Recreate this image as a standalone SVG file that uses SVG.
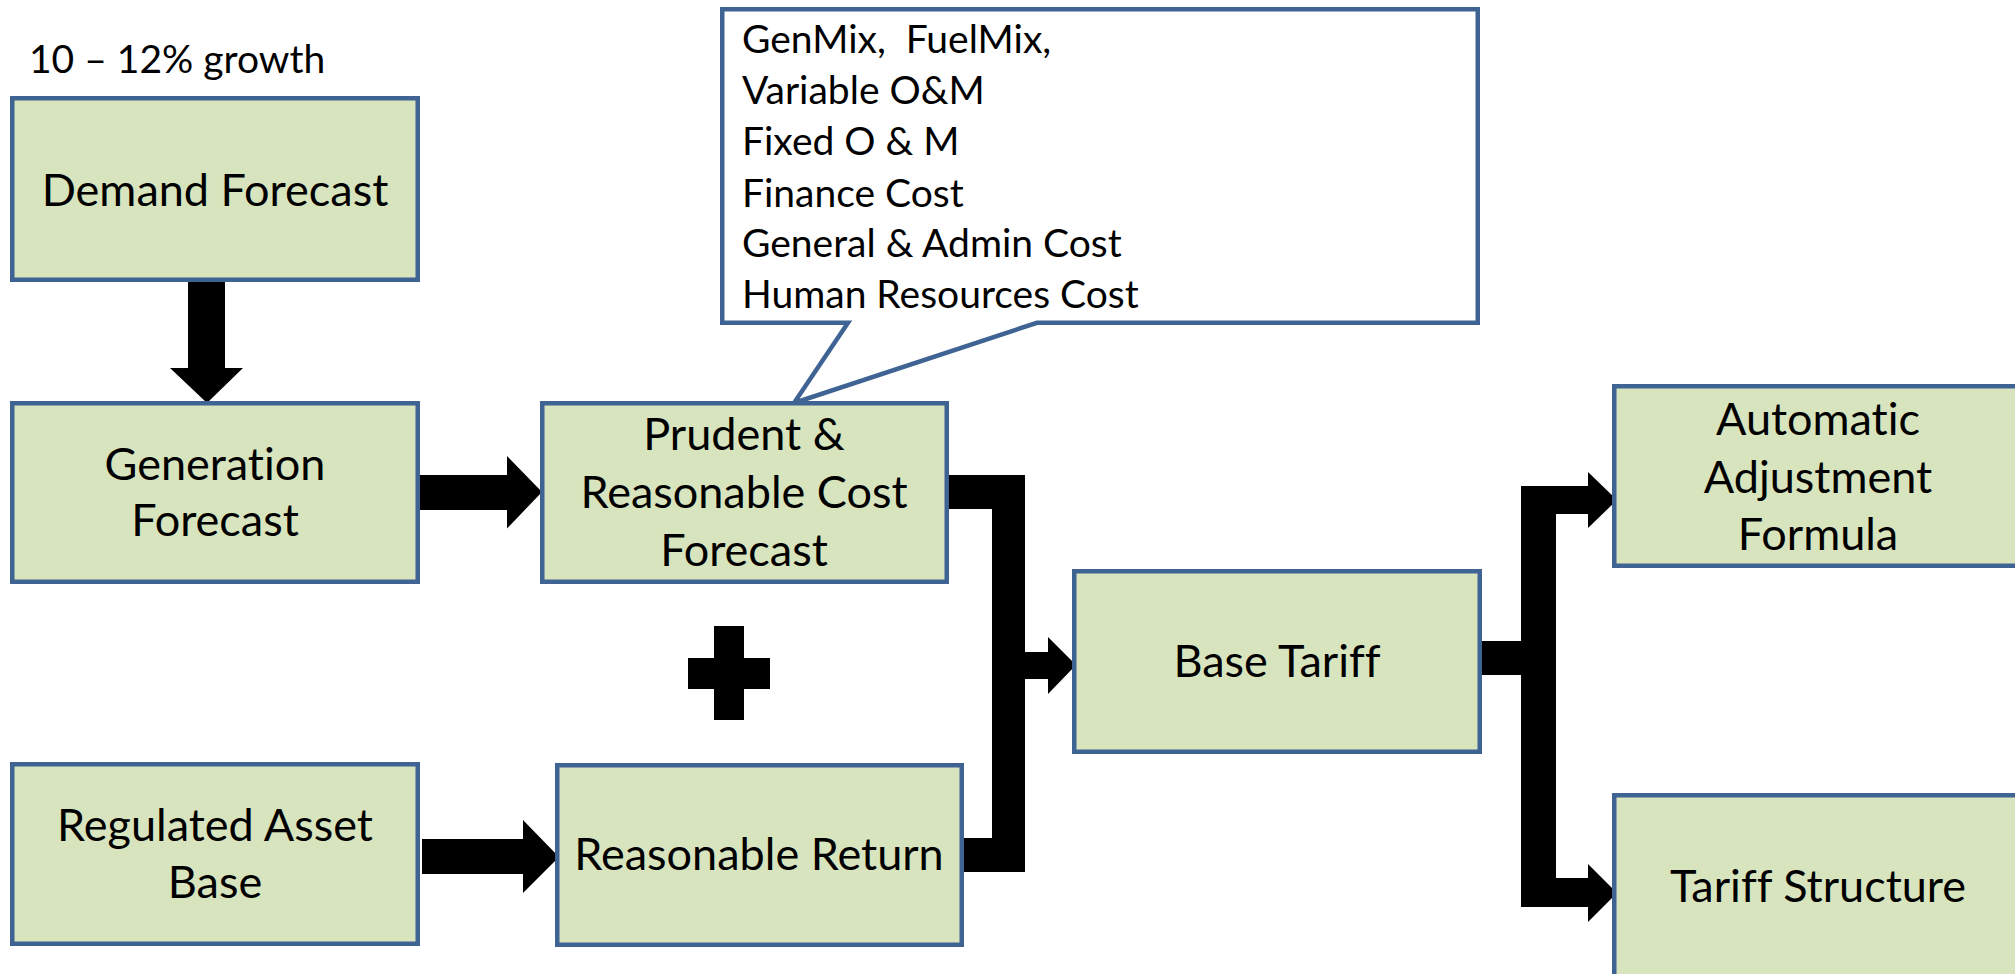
<svg xmlns="http://www.w3.org/2000/svg" width="2015" height="974" viewBox="0 0 2015 974">
  <style>
    .box { fill: #D7E4BD; stroke: #3F6393; stroke-width: 4.5; }
    .callout { fill: #FFFFFF; stroke: #3F6393; stroke-width: 4.5; stroke-linejoin: miter; }
    .lbl, .note { font-family: Lato, "Liberation Sans", sans-serif; fill: #000000; font-variant-ligatures: none; font-feature-settings: "liga" 0, "clig" 0, "dlig" 0, "hlig" 0; }
    .lbl { font-size: 45px; text-anchor: middle; }
    .note { font-size: 39px; white-space: pre; }
    .flow { fill: #000000; }
  </style>

  <rect width="2015" height="974" fill="#FFFFFF"/>

  <text class="note" x="29" y="73">10 – 12% growth</text>

  <!-- connectors: thick block arrows and brackets -->
  <g id="connectors">
    <polygon class="flow" points="188,280 225,280 225,368 243,368 207,403 170,368 188,368"/>
    <polygon class="flow" points="418,475 507,475 507,456 542,492 507,528.5 507,510 418,510"/>
    <polygon class="flow" points="422,839 523,839 523,820 559,857 523,893 523,874 422,874"/>
    <polygon class="flow" points="946,475 1025,475 1025,652 1048,652 1048,637 1076,665 1048,694 1048,679 1025,679 1025,872 962,872 962,838 992,838 992,509 946,509"/>
    <polygon class="flow" points="1476,641 1521,641 1521,486 1588,486 1588,472 1617,500 1588,528 1588,514 1556,514 1556,878 1588,878 1588,864 1617,893 1588,922 1588,907 1521,907 1521,675 1476,675"/>
    <!-- plus sign between the two cost components -->
    <rect class="flow" x="714" y="626" width="30" height="94"/>
    <rect class="flow" x="688" y="658" width="82" height="31"/>
  </g>

  <g id="cost-items">
    <path class="callout" d="M722.25,9.25 H1477.75 V322.75 H1037 L794,403 L848,322.75 H722.25 Z"/>
    <text class="note" x="742" y="53" xml:space="preserve">GenMix,  FuelMix,</text>
    <text class="note" x="742" y="104">Variable O&amp;M</text>
    <text class="note" x="742" y="155">Fixed O &amp; M</text>
    <text class="note" x="742" y="207">Finance Cost</text>
    <text class="note" x="742" y="257">General &amp; Admin Cost</text>
    <text class="note" x="742" y="308">Human Resources Cost</text>
  </g>

  <g id="demand-forecast">
    <rect class="box" x="12.25" y="98.25" width="405.5" height="181.5"/>
    <text class="lbl" x="215" y="206">Demand Forecast</text>
  </g>

  <g id="generation-forecast">
    <rect class="box" x="12.25" y="403.25" width="405.5" height="178.5"/>
    <text class="lbl" x="215" y="480">Generation</text>
    <text class="lbl" x="215" y="536">Forecast</text>
  </g>

  <g id="cost-forecast">
    <rect class="box" x="542.25" y="403.25" width="404.5" height="178.5"/>
    <text class="lbl" x="744" y="450">Prudent &amp;</text>
    <text class="lbl" x="744" y="508">Reasonable Cost</text>
    <text class="lbl" x="744" y="566">Forecast</text>
  </g>

  <g id="regulated-asset-base">
    <rect class="box" x="12.25" y="764.25" width="405.5" height="179.5"/>
    <text class="lbl" x="215" y="841">Regulated Asset</text>
    <text class="lbl" x="215" y="898">Base</text>
  </g>

  <g id="reasonable-return">
    <rect class="box" x="557.25" y="765.25" width="404.5" height="179.5"/>
    <text class="lbl" x="759" y="870">Reasonable Return</text>
  </g>

  <g id="base-tariff">
    <rect class="box" x="1074.25" y="571.25" width="405.5" height="180.5"/>
    <text class="lbl" x="1277" y="677">Base Tariff</text>
  </g>

  <g id="adjustment-formula">
    <rect class="box" x="1614.25" y="386.25" width="420" height="179.5"/>
    <text class="lbl" x="1818" y="435">Automatic</text>
    <text class="lbl" x="1818" y="493">Adjustment</text>
    <text class="lbl" x="1818" y="550">Formula</text>
  </g>

  <g id="tariff-structure">
    <rect class="box" x="1614.25" y="795.25" width="420" height="200"/>
    <text class="lbl" x="1818" y="902">Tariff Structure</text>
  </g>
</svg>
